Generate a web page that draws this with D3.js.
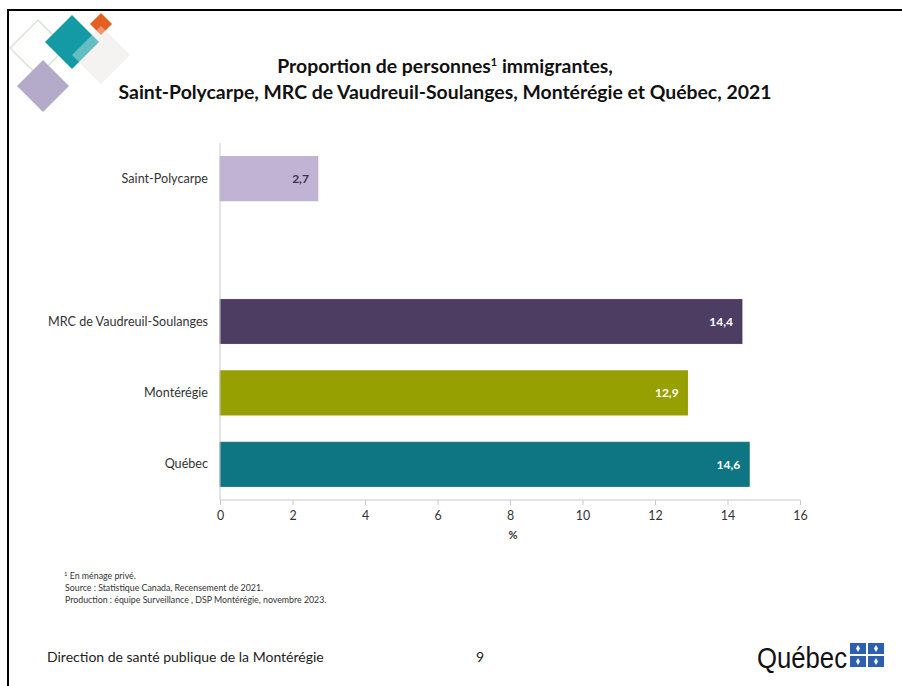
<!DOCTYPE html>
<html><head><meta charset="utf-8">
<script src="https://cdn.jsdelivr.net/npm/d3@7"></script>
<style>body{margin:0;background:#fff;}svg{display:block;}</style>
</head><body>
<svg id="c" width="902" height="686"></svg>
<script>
const categories = ["Saint-Polycarpe", "", "MRC de Vaudreuil-Soulanges", "Montérégie", "Québec"];
const values = [2.7, null, 14.4, 12.9, 14.6];
const barColors = ["#c0b3d4", null, "#4e3d63", "#96a000", "#0e7582"];
const labelColors = ["#3d3050", null, "#ffffff", "#ffffff", "#ffffff"];
const xTicks = [0, 2, 4, 6, 8, 10, 12, 14, 16];

const svg = d3.select("#c");
const font = "Lato, 'Open Sans', sans-serif";

// frame
svg.append("line").attr("x1",7).attr("x2",902).attr("y1",10).attr("y2",10).attr("stroke","#000").attr("stroke-width",2);
svg.append("line").attr("x1",8).attr("x2",8).attr("y1",9).attr("y2",686).attr("stroke","#000").attr("stroke-width",2);

// logo diamonds
function diamond(cx, cy, h, fill, stroke, op){
  svg.append("path").attr("d",`M${cx},${cy-h}L${cx+h},${cy}L${cx},${cy+h}L${cx-h},${cy}Z`)
    .attr("fill",fill).attr("stroke",stroke||"none").attr("stroke-width",1.2).attr("opacity",op==null?1:op);
}
diamond(38,48,28,"none","#d6dccf");
diamond(101,55,29,"#efedec");
diamond(43,86,26,"#b3abc9");
diamond(72,42,27,"#139aa5");
diamond(101,24,11,"#e45f22");
diamond(101,55,29,"#ffffff",null,0.35);

// title
const title = svg.append("text").attr("text-anchor","middle").attr("font-family",font).attr("font-weight","bold").attr("font-size",19.4).attr("fill","#111");
const t1 = title.append("tspan").attr("x",445).attr("y",73);
t1.append("tspan").text("Proportion de personnes");
t1.append("tspan").text("1").attr("font-size",11).attr("dy",-7);
t1.append("tspan").text(" immigrantes,").attr("dy",7);
title.append("tspan").attr("x",445).attr("y",99).text("Saint-Polycarpe, MRC de Vaudreuil-Soulanges, Montérégie et Québec, 2021");

// chart
const x = d3.scaleLinear().domain([0,16]).range([220,800]);
const y = d3.scaleBand().domain(categories.map((c,i)=>i)).range([143,500]).paddingInner(0.38).paddingOuter(0.19);

const bars = categories.map((c,i)=>({c, v:values[i], i})).filter(d=>d.v!=null);

svg.append("g").selectAll("rect").data(bars).join("rect")
  .attr("x",x(0)).attr("y",d=>y(d.i)).attr("width",d=>x(d.v)-x(0)).attr("height",y.bandwidth())
  .attr("fill",d=>barColors[d.i]).attr("stroke",d=>d3.color(barColors[d.i]).darker(0.15)).attr("stroke-width",0.8);

svg.append("g").selectAll("text").data(bars).join("text")
  .attr("x",d=>x(d.v)-9).attr("y",d=>y(d.i)+y.bandwidth()/2+4.5)
  .attr("text-anchor","end").attr("font-family",font).attr("font-weight","bold").attr("font-size",12)
  .attr("fill",d=>labelColors[d.i]).text(d=>String(d.v).replace(".",","));

// y axis
const ya = svg.append("g").attr("transform",`translate(${x(0)},0)`).call(d3.axisLeft(y).tickSize(0).tickPadding(12).tickFormat(i=>categories[i]));
ya.select(".domain").attr("stroke","#c8c8c8").attr("d",`M0,143V500`);
ya.selectAll("text").attr("font-family",font).attr("font-size",12.6).attr("fill","#333");

// x axis
const xa = svg.append("g").attr("transform","translate(0,500)").call(d3.axisBottom(x).tickValues(xTicks).tickSize(5).tickPadding(6).tickFormat(d=>d));
xa.select(".domain").attr("stroke","#c8c8c8").attr("d","M220,0H800");
xa.selectAll(".tick line").attr("stroke","#c8c8c8");
xa.selectAll("text").attr("font-family",font).attr("font-size",12.4).attr("fill","#333");
svg.append("text").attr("x",(x(0)+x(16))/2 + 3).attr("y",539).attr("text-anchor","middle").attr("font-family",font).attr("font-weight","bold").attr("font-size",11).attr("fill","#333").text("%");

// footnotes
const fn = svg.append("text").attr("font-family",font).attr("font-size",8.8).attr("fill","#333");
const f1 = fn.append("tspan").attr("x",64).attr("y",579);
f1.append("tspan").text("1").attr("font-size",6).attr("dy",-3);
f1.append("tspan").text(" En ménage privé.").attr("dy",3);
fn.append("tspan").attr("x",65).attr("y",591).text("Source : Statistique Canada, Recensement de 2021.");
fn.append("tspan").attr("x",65).attr("y",603).text("Production : équipe Surveillance , DSP Montérégie, novembre 2023.");

// footer
svg.append("text").attr("x",47).attr("y",662).attr("font-family",font).attr("font-size",14).attr("fill","#222").text("Direction de santé publique de la Montérégie");
svg.append("text").attr("x",476).attr("y",662).attr("font-family",font).attr("font-size",14).attr("fill","#222").text("9");
svg.append("text").attr("x",757).attr("y",668).attr("font-family","'Liberation Sans Narrow', 'Liberation Sans', sans-serif").attr("font-size",30).attr("fill","#111").attr("textLength",90).attr("lengthAdjust","spacingAndGlyphs").text("Québec");
// flag squares
const flag = svg.append("g");
[[850,643],[868,643],[850,656],[868,656]].forEach(([fx,fy])=>{
  flag.append("rect").attr("x",fx).attr("y",fy).attr("width",16).attr("height",11).attr("fill","#2d5fb0");
  flag.append("path").attr("d",`M${fx+8},${fy+2}L${fx+10},${fy+5.5}L${fx+8},${fy+9}L${fx+6},${fy+5.5}Z`).attr("fill","#fff");
});
</script>
</body></html>
